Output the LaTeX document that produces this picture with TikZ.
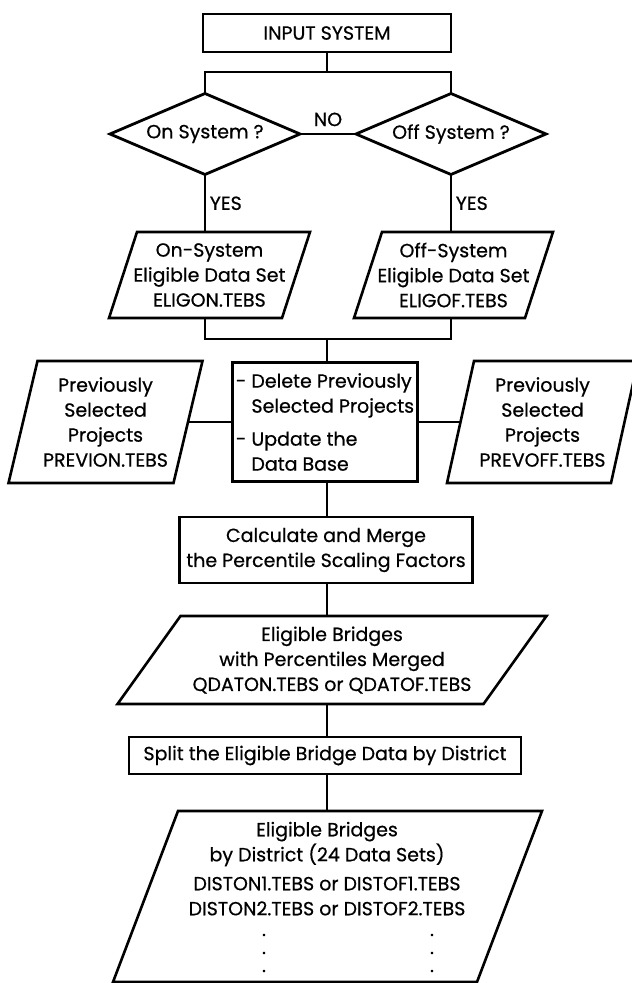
\documentclass[tikz,border=0pt]{standalone}
\usepackage{fontspec}
\setmainfont[FakeBold=0.6]{Poppins}
\usetikzlibrary{shapes.geometric}
\begin{document}
\begin{tikzpicture}[x=1pt,y=-1pt,
  txt/.style={font=\fontsize{19}{25}\selectfont},
  box/.style={draw, line width=2.6pt, inner sep=0pt, outer sep=0pt, txt, align=center},
  paratext/.style={inner sep=0pt, outer sep=0pt, txt, align=center},
  outline/.style={line width=2.6pt, line join=miter},
  dia/.style={draw, line width=2.8pt, diamond, inner sep=0pt, outer sep=0pt, aspect=2.35, txt,
              minimum width=190pt, minimum height=81pt},
  conn/.style={line width=1.6pt},
  lab/.style={txt, inner sep=0pt},
  dot/.style={txt, inner sep=0pt}]
\useasboundingbox (0,0) rectangle (632,983);
% #1 = node name (rectangle of midline width), #2 = slant (top shifted right)
\newcommand\paraline[2]{%
  \draw[outline] ([xshift=-#2/2]#1.south west) -- ([xshift=#2/2]#1.north west)
    -- ([xshift=#2/2]#1.north east) -- ([xshift=-#2/2]#1.south east) -- cycle;}

% nodes
\node[box, minimum width=248pt, minimum height=38pt] (input) at (327,33) {INPUT SYSTEM};
\node[dia] (dL) at (205,134) {On System ?};
\node[dia] (dR) at (451,134) {Off System ?};

\node[paratext, minimum width=173pt, minimum height=86pt] (pL) at (209.5,275)
      {On-System\\Eligible Data Set\\ELIGON.TEBS};
\paraline{pL}{28pt}
\node[paratext, minimum width=171pt, minimum height=86pt] (pR) at (453.5,275)
      {Off-System\\Eligible Data Set\\ELIGOF.TEBS};
\paraline{pR}{28pt}

\node[box, minimum width=185pt, minimum height=119pt, align=left] (mid) at (325,422)
      {- Delete Previously\\\hphantom{- }Selected Projects\\[8pt]- Update the\\\hphantom{- }Data Base};
\node[paratext, minimum width=165pt, minimum height=122pt] (prevL) at (105.5,422)
      {Previously\\Selected\\Projects\\PREVION.TEBS};
\paraline{prevL}{29pt}
\node[paratext, minimum width=164pt, minimum height=122pt] (prevR) at (542.5,422)
      {Previously\\Selected\\Projects\\PREVOFF.TEBS};
\paraline{prevR}{27pt}

\node[box, minimum width=293pt, minimum height=66pt] (calc) at (326,550)
      {Calculate and Merge\\the Percentile Scaling Factors};
\node[paratext, minimum width=366pt, minimum height=88pt] (q) at (332,660)
      {Eligible Bridges\\with Percentiles Merged\\QDATON.TEBS or QDATOF.TEBS};
\paraline{q}{63pt}
\node[box, minimum width=392pt, minimum height=37pt] (split) at (325,755.5)
      {Split the Eligible Bridge Data by District};
\node[paratext, minimum width=364pt, minimum height=171pt] (dist) at (327.5,896.5) {};
\paraline{dist}{65pt}
\node[lab, align=center] (distA) at (327,844)
      {Eligible Bridges\\by District (24 Data Sets)};
\node[lab, align=center] (distB) at (327,896)
      {DISTON1.TEBS or DISTOF1.TEBS\\DISTON2.TEBS or DISTOF2.TEBS};
\node[dot] (dL1) at (264,935) {.};
\node[dot] (dL2) at (264,953) {.};
\node[dot] (dL3) at (264,971) {.};
\node[dot] (dR1) at (432,935) {.};
\node[dot] (dR2) at (432,953) {.};
\node[dot] (dR3) at (432,971) {.};

% connectors
\coordinate (j1) at (327,72);
\coordinate (j2) at (327,339);
\draw[conn] (input.south) -- (j1);
\draw[conn] (dL.north) -- (dL.north |- j1) -- (dR.north |- j1) -- (dR.north);
\draw[conn] (dL.east) -- node[lab, above=7pt] (no) {NO} (dR.west);
\draw[conn] (dL.south) -- node[lab, right=4pt] (yesL) {YES} (dL.south |- pL.north);
\draw[conn] (dR.south) -- node[lab, right=4pt] (yesR) {YES} (dR.south |- pR.north);
\draw[conn] (dL.south |- pL.south) -- (dL.south |- j2) -- (dR.south |- j2) -- (dR.south |- pR.south);
\draw[conn] (j2) -- (mid.north -| j2);
\draw[conn] (prevL.east) -- (mid.west);
\draw[conn] (mid.east) -- (prevR.west);
\draw[conn] (mid.south -| j2) -- (calc.north -| j2);
\draw[conn] (calc.south -| j2) -- (q.north -| j2);
\draw[conn] (q.south -| j2) -- (split.north -| j2);
\draw[conn] (split.south -| j2) -- (dist.north -| j2);
\end{tikzpicture}
\end{document}
